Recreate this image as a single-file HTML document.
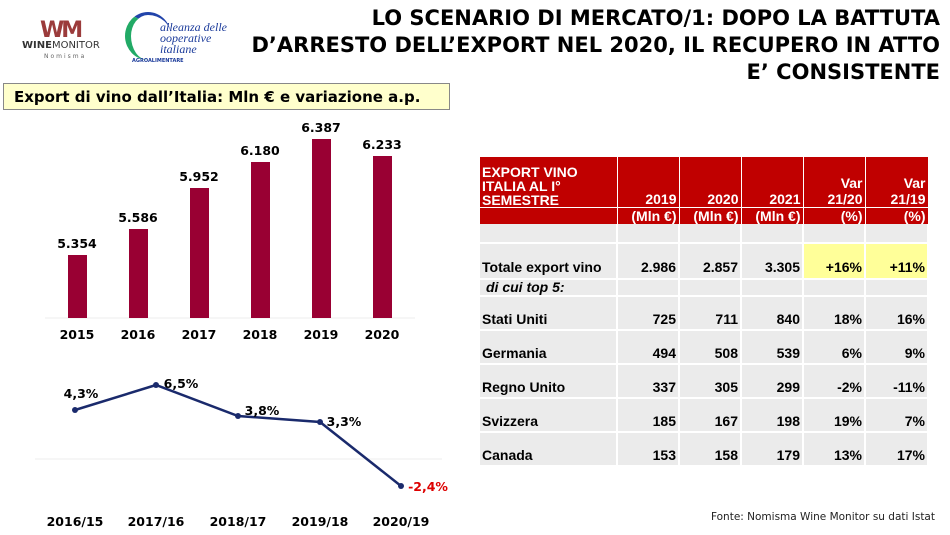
<!DOCTYPE html>
<html><head><meta charset="utf-8"><style>
body{margin:0;width:950px;height:535px;background:#fff;position:relative;overflow:hidden;font-family:"DejaVu Sans","Liberation Sans",sans-serif;}
.a{position:absolute;}
.t{position:absolute;right:10px;font-weight:bold;font-size:21px;color:#000;text-align:right;line-height:27px;top:5px;}
table{position:absolute;left:480px;top:157px;border-collapse:collapse;font-size:14px;font-weight:bold;table-layout:fixed;width:448px;font-family:"Liberation Sans",sans-serif;}
td{padding:0 2px;text-align:right;border-right:2px solid #fff;white-space:nowrap;overflow:hidden;}
.h td{background:#c00000;color:#fff;border-right:1px solid #fff;}
.g td{background:#ebebeb;border-bottom:2px solid #fff;}
.r td{padding-top:12px;box-sizing:border-box;}
</style></head><body>
<div class="a" style="left:40px;top:18px;width:50px;height:20px;color:#9b3b3b;font-weight:900;font-size:22px;letter-spacing:-3px;">WM</div>
<div class="a" style="left:22px;top:40px;font-size:10px;color:#333;"><b>WINE</b>MONITOR</div>
<div class="a" style="left:44px;top:53px;font-size:6px;color:#666;letter-spacing:2px;">Nomisma</div>
<div class="a" style="left:125px;top:12px;width:40px;height:45px;border-left:6px solid #2a6;border-radius:50%;border-top:3px solid #24a;"></div>
<div class="a" style="left:160px;top:22px;font-family:'Liberation Serif',serif;font-style:italic;color:#1a3a9a;font-size:12px;line-height:11px;">alleanza delle<br>ooperative<br>italiane</div>
<div class="a" style="left:132px;top:58px;font-size:5px;color:#1a3a9a;font-weight:bold;">AGROALIMENTARE</div>
<div class="t">LO SCENARIO DI MERCATO/1: DOPO LA BATTUTA<br>D’ARRESTO DELL’EXPORT NEL 2020, IL RECUPERO IN ATTO<br>E’ CONSISTENTE</div>
<div class="a" style="left:3px;top:83px;width:447px;height:27px;background:#ffffcc;border:1px solid #888;font-weight:bold;font-size:15px;line-height:27px;padding-left:10px;box-sizing:border-box;white-space:nowrap;">Export di vino dall’Italia: Mln € e variazione a.p.</div>
<svg class="a" style="left:0;top:0" width="470" height="535" font-family="DejaVu Sans,Liberation Sans,sans-serif" font-weight="bold" font-size="12.5" text-anchor="middle">
<line x1="45" y1="318" x2="415" y2="318" stroke="#eee"/>
<g fill="#990033">
<rect x="68" y="255" width="19" height="63"/><rect x="129" y="229" width="19" height="89"/><rect x="190" y="188" width="19" height="130"/><rect x="251" y="162" width="19" height="156"/><rect x="312" y="139" width="19" height="179"/><rect x="373" y="156" width="19" height="162"/></g>
<g><text x="77" y="248">5.354</text><text x="138" y="222">5.586</text><text x="199" y="181">5.952</text><text x="260" y="155">6.180</text><text x="321" y="132">6.387</text><text x="382" y="149">6.233</text>
<text x="77" y="339">2015</text><text x="138" y="339">2016</text><text x="199" y="339">2017</text><text x="260" y="339">2018</text><text x="321" y="339">2019</text><text x="382" y="339">2020</text></g>
<line x1="35" y1="459" x2="442" y2="459" stroke="#eee"/>
<polyline points="75,410 156,385 238,416 320,422 401,486" fill="none" stroke="#1a2a6c" stroke-width="2.5"/>
<g fill="#1a2a6c"><circle cx="75" cy="410" r="3"/><circle cx="156" cy="385" r="3"/><circle cx="238" cy="416" r="3"/><circle cx="320" cy="422" r="3"/><circle cx="401" cy="486" r="3"/></g>
<text x="81" y="398">4,3%</text><text x="181" y="388">6,5%</text><text x="262" y="415">3,8%</text><text x="344" y="426">3,3%</text><text x="428" y="491" fill="#d00">-2,4%</text>
<text x="75" y="526">2016/15</text><text x="156" y="526">2017/16</text><text x="238" y="526">2018/17</text><text x="320" y="526">2019/18</text><text x="401" y="526">2020/19</text>
</svg>
<table>
<colgroup><col style="width:137px"><col style="width:62px"><col style="width:62px"><col style="width:62px"><col style="width:62px"><col style="width:63px"></colgroup>
<tr class="h" style="height:50px;vertical-align:bottom"><td style="text-align:left;line-height:14px;border-bottom:1px solid #fff">EXPORT VINO<br>ITALIA AL I°<br>SEMESTRE</td><td style="border-bottom:1px solid #fff">2019</td><td style="border-bottom:1px solid #fff">2020</td><td style="border-bottom:1px solid #fff">2021</td><td style="line-height:16px;border-bottom:1px solid #fff">Var<br>21/20</td><td style="line-height:16px;border-bottom:1px solid #fff">Var<br>21/19</td></tr>
<tr class="h" style="height:17px;"><td></td><td>(Mln €)</td><td>(Mln €)</td><td>(Mln €)</td><td>(%)</td><td>(%)</td></tr>
<tr class="g" style="height:19px"><td></td><td></td><td></td><td></td><td></td><td></td></tr>
<tr class="g" style="height:36px;vertical-align:bottom"><td style="text-align:left;padding-bottom:3px">Totale export vino</td><td style="padding-bottom:3px">2.986</td><td style="padding-bottom:3px">2.857</td><td style="padding-bottom:3px">3.305</td><td style="background:#ffff99;padding-bottom:3px">+16%</td><td style="background:#ffff99;padding-bottom:3px">+11%</td></tr>
<tr class="g" style="height:16px;vertical-align:top"><td style="text-align:left;font-style:italic;padding-left:6px;line-height:15px">di cui top 5:</td><td></td><td></td><td></td><td></td><td></td></tr>
<tr class="g r" style="height:34px"><td style="text-align:left">Stati Uniti</td><td>725</td><td>711</td><td>840</td><td>18%</td><td>16%</td></tr>
<tr class="g r" style="height:34px"><td style="text-align:left">Germania</td><td>494</td><td>508</td><td>539</td><td>6%</td><td>9%</td></tr>
<tr class="g r" style="height:34px"><td style="text-align:left">Regno Unito</td><td>337</td><td>305</td><td>299</td><td>-2%</td><td>-11%</td></tr>
<tr class="g r" style="height:34px"><td style="text-align:left">Svizzera</td><td>185</td><td>167</td><td>198</td><td>19%</td><td>7%</td></tr>
<tr class="g r" style="height:34px"><td style="text-align:left">Canada</td><td>153</td><td>158</td><td>179</td><td>13%</td><td>17%</td></tr>
</table>
<div class="a" style="right:15px;top:511px;font-size:10.5px;color:#222;">Fonte: Nomisma Wine Monitor su dati Istat</div>
</body></html>
